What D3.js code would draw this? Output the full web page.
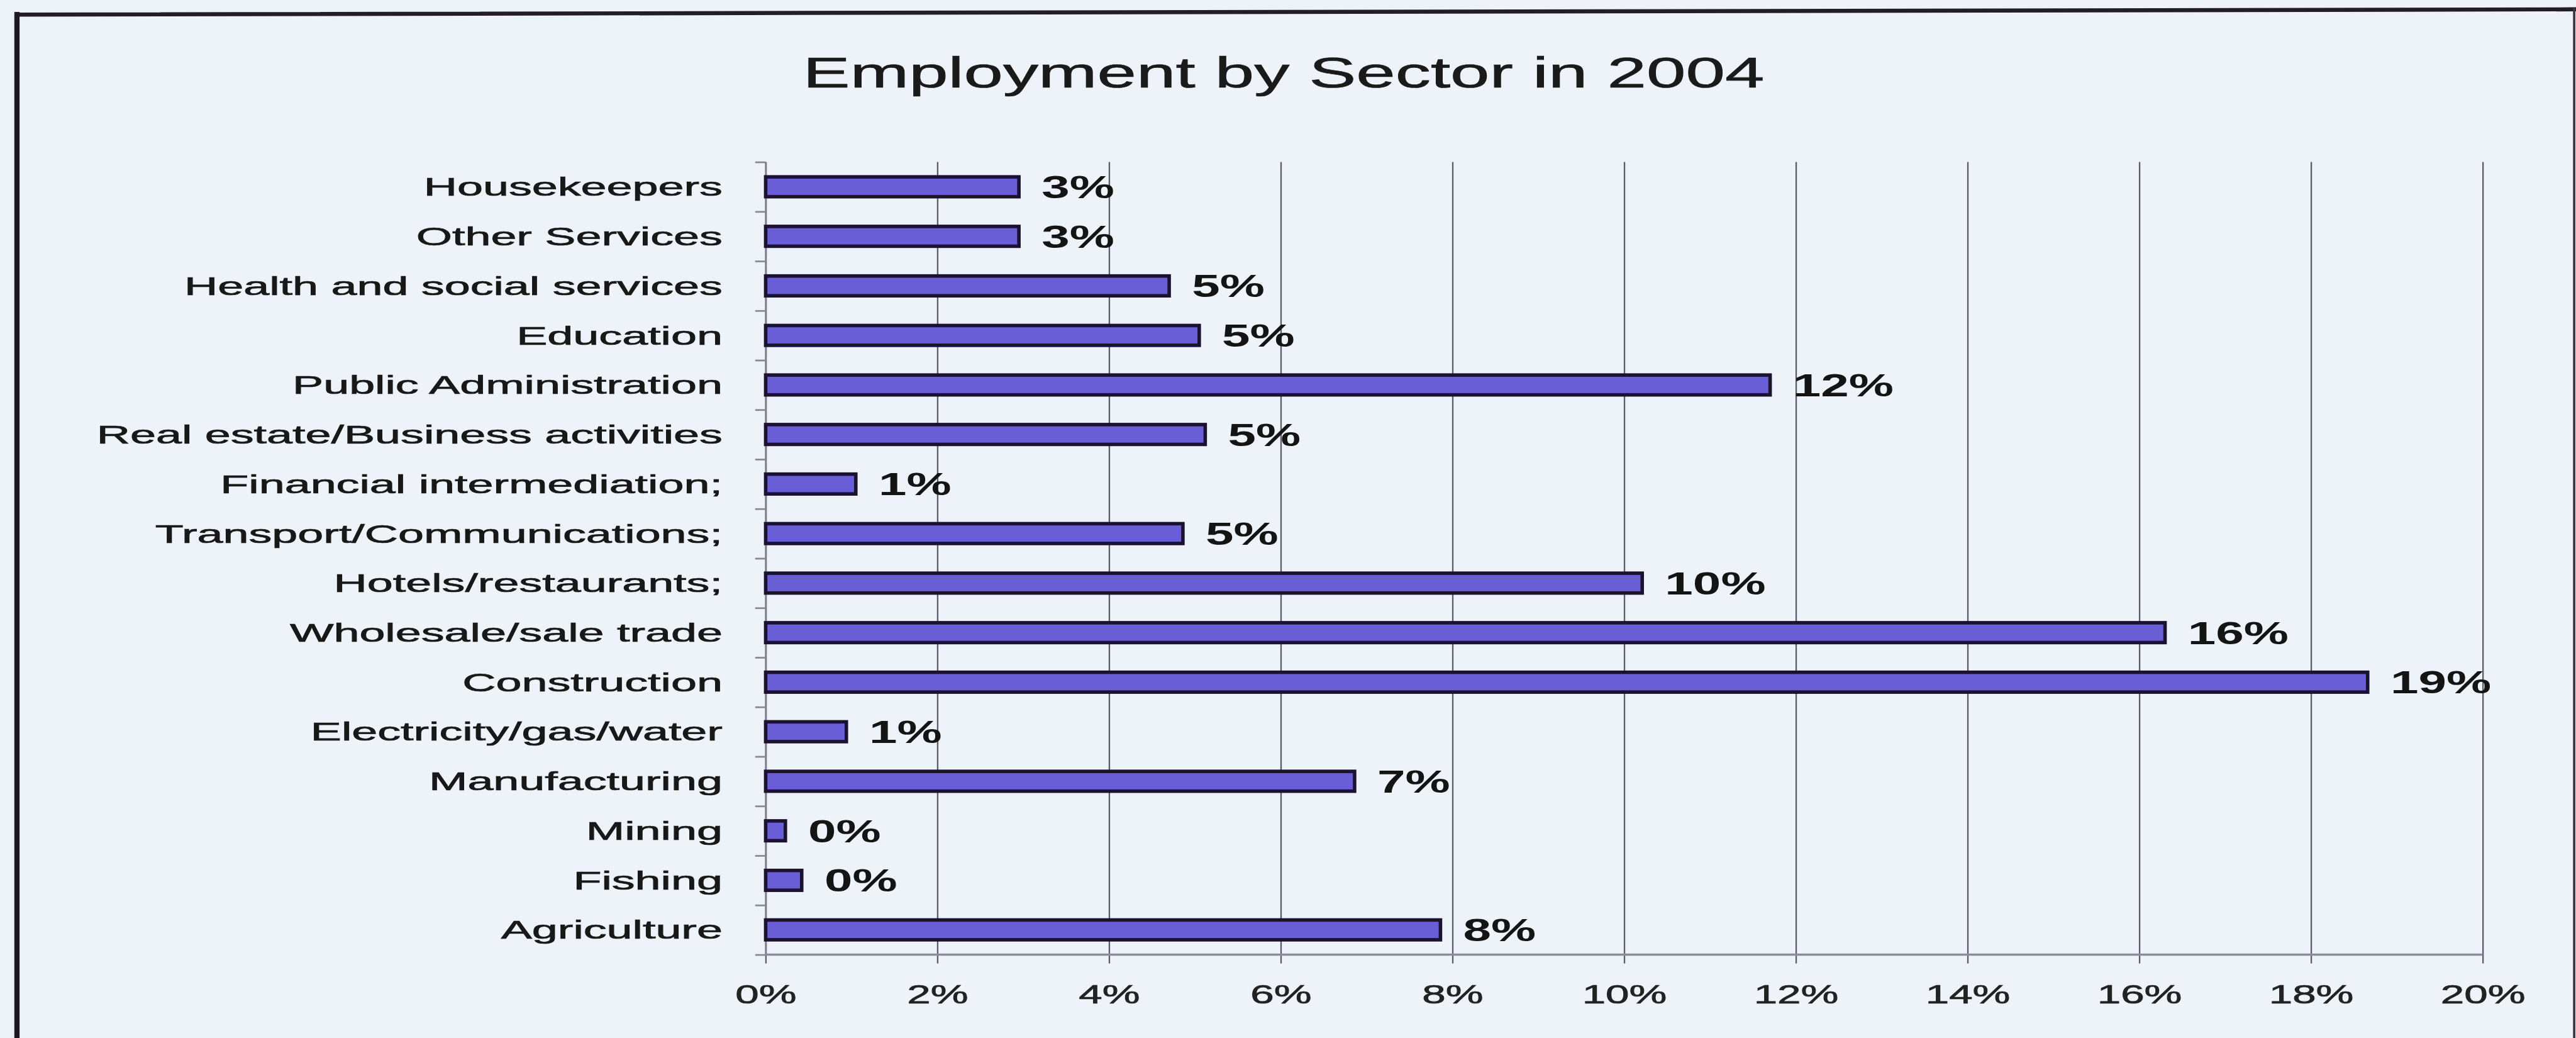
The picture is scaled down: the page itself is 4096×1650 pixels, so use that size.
<!DOCTYPE html>
<html>
<head>
<meta charset="utf-8">
<script src="https://cdn.jsdelivr.net/npm/d3@7"></script>
<style>
  html, body { margin: 0; padding: 0; background: #eef3fa; overflow: hidden; }
  svg { display: block; }
  text { font-family: "Liberation Sans", Arial, Helvetica, sans-serif; }
</style>
</head>
<body>
<svg id="chart"></svg>
<script>
// Sectors, listed top to bottom as they appear on the chart
const sectors = [
  "Housekeepers",
  "Other Services",
  "Health and social services",
  "Education",
  "Public Administration",
  "Real estate/Business activities",
  "Financial intermediation;",
  "Transport/Communications;",
  "Hotels/restaurants;",
  "Wholesale/sale trade",
  "Construction",
  "Electricity/gas/water",
  "Manufacturing",
  "Mining",
  "Fishing",
  "Agriculture"
];

// Share of employment per sector (fraction of total)
const shares = [
  0.0295, 0.0295, 0.0470, 0.0505, 0.1170, 0.0512, 0.0105, 0.0486,
  0.1021, 0.1630, 0.1866, 0.0094, 0.0686, 0.0023, 0.0042, 0.0786
];

// Value-axis ticks
const tickValues = [0, 0.02, 0.04, 0.06, 0.08, 0.10, 0.12, 0.14, 0.16, 0.18, 0.20];

const chartTitle = "Employment by Sector in 2004";

// Drawing space (the svg is shown at 4096 x 1650)
const W = 4421, H = 1781;
const plot = { left: 1314, right: 4261, top: 278, bottom: 1638 };

const svg = d3.select("#chart")
  .attr("width", 4096)
  .attr("height", 1650)
  .attr("viewBox", `0 0 ${W} ${H}`);

svg.append("rect").attr("width", W).attr("height", H).attr("fill", "#eef3fa");

// Slide frame
const frame = svg.append("g").attr("fill", "none").attr("stroke-linecap", "square");
frame.append("line").attr("x1", 29).attr("y1", 25).attr("x2", 4418).attr("y2", 16)
  .attr("stroke", "#231d2a").attr("stroke-width", 7);
frame.append("line").attr("x1", 29).attr("y1", 25).attr("x2", 29).attr("y2", H + 10)
  .attr("stroke", "#1d1822").attr("stroke-width", 9);
frame.append("line").attr("x1", 4418).attr("y1", 16).attr("x2", 4418).attr("y2", H + 10)
  .attr("stroke", "#3a3644").attr("stroke-width", 4);

// Scales
const x = d3.scaleLinear().domain([0, 0.2]).range([plot.left, plot.right]);
const y = d3.scaleBand().domain(sectors).range([plot.top, plot.bottom])
  .paddingInner(0.6).paddingOuter(0.3);
const yEdge = d3.scaleLinear().domain([0, sectors.length]).range([plot.top, plot.bottom]);

const pct = d3.format(".0%");

// Vertical gridlines, continuing below the axis as tick marks
const grid = svg.append("g")
  .attr("transform", `translate(0,${plot.bottom})`)
  .call(d3.axisBottom(x).tickValues(tickValues).tickFormat("").tickSizeOuter(0));
grid.select(".domain").remove();
grid.selectAll(".tick line")
  .attr("y1", 15)
  .attr("y2", plot.top - plot.bottom)
  .attr("stroke", "#5c5c6c")
  .attr("stroke-width", 2.5);

// Value-axis labels
const xLabels = svg.append("g")
  .attr("transform", `translate(0,${plot.bottom})`)
  .call(d3.axisBottom(x).tickValues(tickValues).tickFormat(pct).tickSize(0));
xLabels.select(".domain").remove();
xLabels.selectAll(".tick text")
  .attr("y", 84)
  .attr("dy", 0)
  .attr("transform", "scale(1.58,1)")
  .attr("font-size", 46)
  .attr("font-family", "'Liberation Sans', Arial, sans-serif")
  .attr("fill", "#222")
  .attr("stroke", "#222")
  .attr("stroke-width", 0.8);

// Category axis: ticks at the band edges
const yTicks = svg.append("g")
  .attr("transform", `translate(${plot.left},0)`)
  .call(d3.axisLeft(yEdge).tickValues(d3.range(sectors.length + 1)).tickFormat("").tickSize(18).tickSizeOuter(0));
yTicks.select(".domain").attr("stroke", "#7a7a88").attr("stroke-width", 3);
yTicks.selectAll(".tick line").attr("stroke", "#8a8a96").attr("stroke-width", 3);

// Category labels
const yLabels = svg.append("g")
  .attr("transform", `translate(${plot.left},0)`)
  .call(d3.axisLeft(y).tickSize(0).tickPadding(0));
yLabels.select(".domain").remove();
yLabels.selectAll(".tick text")
  .attr("x", 0)
  .attr("dy", "0.36em")
  .attr("transform", "translate(-74,0) scale(1.85,1)")
  .attr("font-size", 43)
  .attr("font-family", "'Liberation Sans', Arial, sans-serif")
  .attr("fill", "#181818")
  .attr("stroke", "#181818")
  .attr("stroke-width", 0.8);

// Bottom axis line
svg.append("line")
  .attr("x1", x(0)).attr("x2", x(0.2))
  .attr("y1", plot.bottom).attr("y2", plot.bottom)
  .attr("stroke", "#8b8c9c").attr("stroke-width", 4);

const rows = sectors.map((s, i) => ({ sector: s, value: shares[i] }));

// Bars
svg.append("g").selectAll("rect")
  .data(rows)
  .join("rect")
  .attr("x", x(0))
  .attr("y", d => y(d.sector))
  .attr("width", d => x(d.value) - x(0))
  .attr("height", y.bandwidth())
  .attr("fill", "#6a5ed6")
  .attr("stroke", "#1a1230")
  .attr("stroke-width", 6);

// Value labels
svg.append("g").selectAll("text")
  .data(rows)
  .join("text")
  .attr("transform", d => `translate(${x(d.value) + 39},${y(d.sector) + y.bandwidth() / 2}) scale(1.6,1)`)
  .attr("dy", "0.36em")
  .attr("font-size", 54)
  .attr("font-weight", "bold")
  .attr("fill", "#141414")
  .text(d => pct(d.value));

// Title
svg.append("text")
  .attr("transform", "translate(2203,150) scale(1.66,1)")
  .attr("text-anchor", "middle")
  .attr("font-size", 73)
  .attr("fill", "#1a1a1a")
  .attr("stroke", "#1a1a1a")
  .attr("stroke-width", 0.8)
  .text(chartTitle);
</script>
</body>
</html>
